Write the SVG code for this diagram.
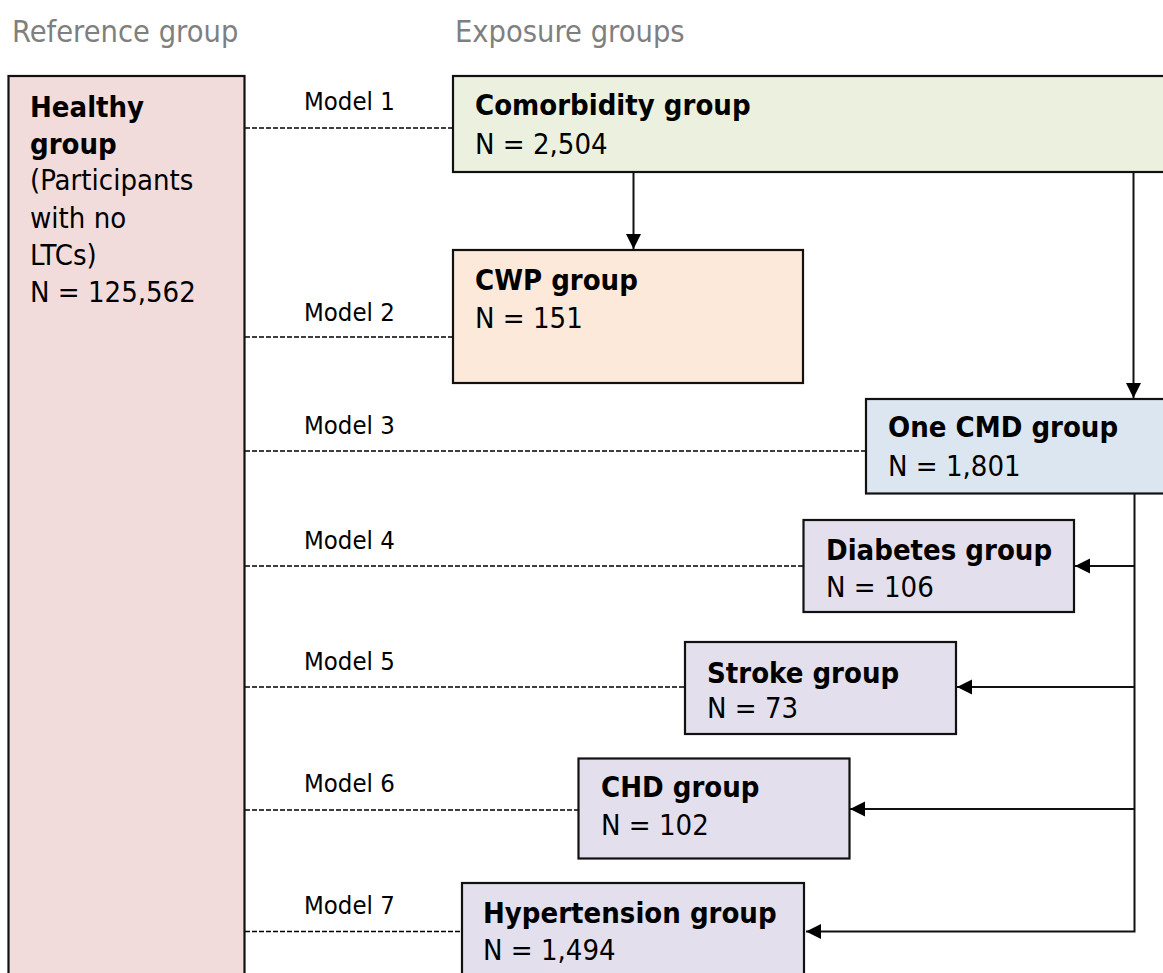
<svg xmlns="http://www.w3.org/2000/svg" width="1163" height="973" viewBox="0 0 1163 973">
<defs>
<marker id="arr" markerUnits="userSpaceOnUse" markerWidth="16" markerHeight="16" refX="15" refY="7.5" orient="auto">
<path d="M0,0 L15,7.5 L0,15 z" fill="#000"/>
</marker>
</defs>
<style>
text{font-family:"DejaVu Sans Condensed","DejaVu Sans",sans-serif;font-stretch:condensed;fill:#000}
.hdr{font-size:30.5px;fill:#7f7f7f}
.t{font-size:29px}
.b{font-weight:bold}
.m{font-size:25.5px}
.box{stroke:#111;stroke-width:2.2}
.dash{stroke:#000;stroke-width:1.6;stroke-dasharray:5,2;fill:none}
.con{stroke:#111;stroke-width:2;fill:none}
</style>
<rect width="1163" height="973" fill="#fff"/>
<text class="hdr" x="12" y="42">Reference group</text>
<text class="hdr" x="455" y="42">Exposure groups</text>

<g id="connectors">
<line class="dash" x1="245" y1="128" x2="452" y2="128"/>
<line class="dash" x1="245" y1="337" x2="452" y2="337"/>
<line class="dash" x1="245" y1="451" x2="865" y2="451"/>
<line class="dash" x1="245" y1="566" x2="803" y2="566"/>
<line class="dash" x1="245" y1="687" x2="685" y2="687"/>
<line class="dash" x1="245" y1="810" x2="578" y2="810"/>
<line class="dash" x1="245" y1="931.5" x2="462" y2="931.5"/>
<line class="con" x1="633.5" y1="172" x2="633.5" y2="249" marker-end="url(#arr)"/>
<line class="con" x1="1133.5" y1="172" x2="1133.5" y2="398" marker-end="url(#arr)"/>
<path class="con" d="M1134.5,494 V931.5 H806" marker-end="url(#arr)"/>
<line class="con" x1="1134.5" y1="566" x2="1075" y2="566" marker-end="url(#arr)"/>
<line class="con" x1="1134.5" y1="687" x2="957" y2="687" marker-end="url(#arr)"/>
<line class="con" x1="1134.5" y1="809" x2="850" y2="809" marker-end="url(#arr)"/>
</g>

<g id="model-labels">
<text class="m" x="304" y="110">Model 1</text>
<text class="m" x="304" y="321">Model 2</text>
<text class="m" x="304" y="434">Model 3</text>
<text class="m" x="304" y="549">Model 4</text>
<text class="m" x="304" y="670">Model 5</text>
<text class="m" x="304" y="792">Model 6</text>
<text class="m" x="304" y="914">Model 7</text>
</g>

<g id="healthy">
<rect class="box" x="8.5" y="76" width="236" height="910" fill="#f2dcdb"/>
<text class="t" x="30"><tspan class="b" x="30" y="117">Healthy</tspan><tspan class="b" x="30" y="154">group</tspan><tspan x="30" y="190">(Participants</tspan><tspan x="30" y="228">with no</tspan><tspan x="30" y="265">LTCs)</tspan><tspan x="30" y="302">N = 125,562</tspan></text>
</g>

<g id="comorbidity">
<rect class="box" x="453" y="76" width="720" height="96" fill="#ebf1de"/>
<text class="t b" x="475" y="115">Comorbidity group</text>
<text class="t" x="475" y="154">N = 2,504</text>
</g>

<g id="cwp">
<rect class="box" x="453" y="250" width="350" height="133" fill="#fde9d9"/>
<text class="t b" x="475" y="290">CWP group</text>
<text class="t" x="475" y="328">N = 151</text>
</g>

<g id="onecmd">
<rect class="box" x="866" y="399" width="310" height="94.5" fill="#dce6f1"/>
<text class="t b" x="888" y="437">One CMD group</text>
<text class="t" x="888" y="476">N = 1,801</text>
</g>

<g id="diabetes">
<rect class="box" x="803.5" y="520" width="270.5" height="92" fill="#e4dfec"/>
<text class="t b" x="826" y="560">Diabetes group</text>
<text class="t" x="826" y="597">N = 106</text>
</g>

<g id="stroke">
<rect class="box" x="685" y="642" width="271" height="92" fill="#e4dfec"/>
<text class="t b" x="707" y="683">Stroke group</text>
<text class="t" x="707" y="718">N = 73</text>
</g>

<g id="chd">
<rect class="box" x="578.5" y="758.5" width="271" height="100" fill="#e4dfec"/>
<text class="t b" x="601" y="797">CHD group</text>
<text class="t" x="601" y="835">N = 102</text>
</g>

<g id="hypertension">
<rect class="box" x="462" y="883" width="342" height="110" fill="#e4dfec"/>
<text class="t b" x="483" y="923">Hypertension group</text>
<text class="t" x="483" y="960">N = 1,494</text>
</g>
</svg>
